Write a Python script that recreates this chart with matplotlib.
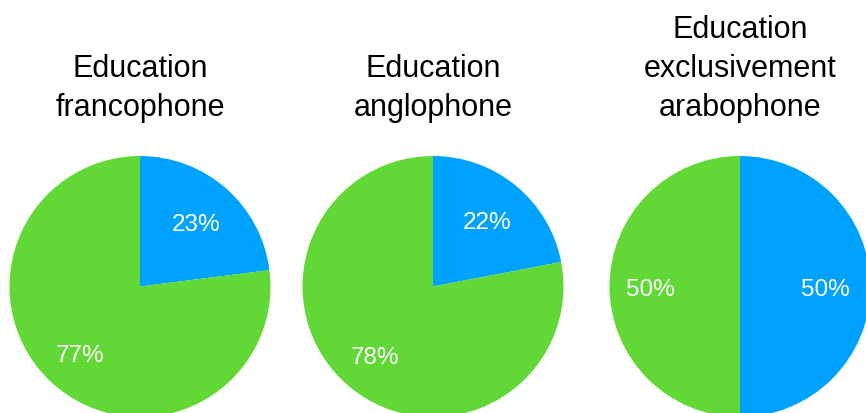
import matplotlib
matplotlib.use("Agg")
import matplotlib.pyplot as plt
import numpy as np

# share of respondents per education track
titles = ["Education\nfrancophone", "Education\nanglophone",
          "Education\nexclusivement\narabophone"]
blue_share = [23, 22, 50]
green_share = [77, 78, 50]

BLUE = "#00A2FF"
GREEN = "#61D836"
W, H = 866, 414

plt.rcParams["font.family"] = ["Liberation Sans", "DejaVu Sans"]

fig = plt.figure(figsize=(W / 100, H / 100), dpi=100, facecolor="white")
ax = fig.add_axes([0, 0, 1, 1])

centers_x = [140, 433, 740]
center_y = H - 287.5
radius = 130.5
# baseline of the last title line, in pixels from the top
title_bottom = 116

for cx, title, b, g in zip(centers_x, titles, blue_share, green_share):
    wedges, _ = ax.pie([b, g], colors=[BLUE, GREEN], startangle=90,
                       counterclock=False, center=(cx, center_y),
                       radius=radius, wedgeprops=dict(linewidth=0))
    for w, v in zip(wedges, [b, g]):
        ang = np.deg2rad((w.theta1 + w.theta2) / 2)
        d = radius * 0.67
        # put the digits' baseline half a cap height below the anchor
        ax.text(cx + d * np.cos(ang) - 2, center_y + d * np.sin(ang) - 9,
                f"{v}%", ha="center", va="baseline", fontsize=17.5,
                color="white")
    lines = title.split("\n")
    for i, line in enumerate(reversed(lines)):
        ax.text(cx, H - (title_bottom - i * 39), line, ha="center",
                va="baseline", fontsize=22, color="black")

ax.set_xlim(0, W)
ax.set_ylim(0, H)
ax.set_aspect("equal")
ax.axis("off")

fig.savefig("out.png", dpi=100, facecolor="white")
plt.close(fig)
